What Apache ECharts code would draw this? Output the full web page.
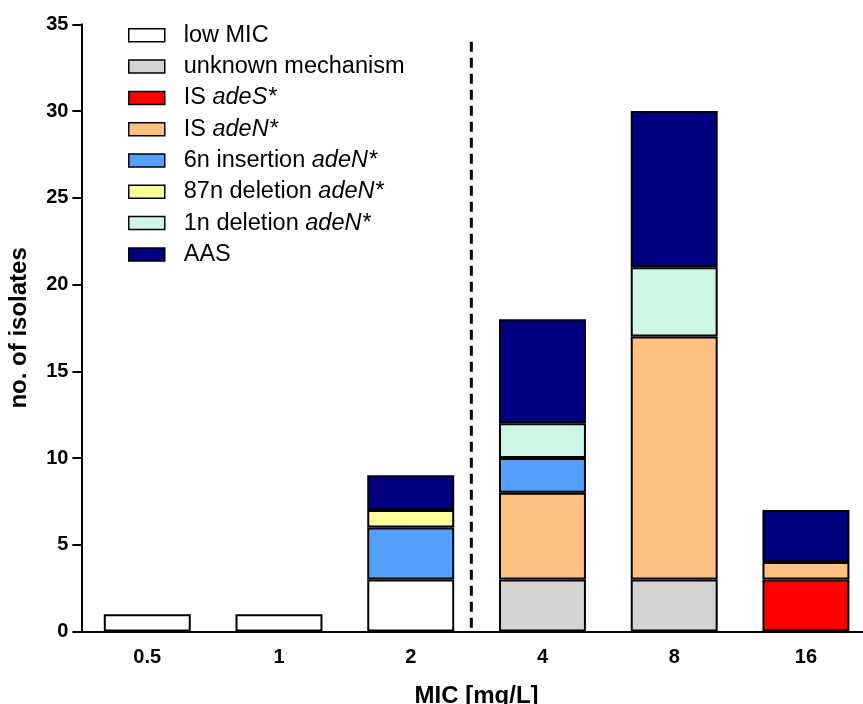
<!DOCTYPE html>
<html>
<head>
<meta charset="utf-8">
<script src="https://cdn.jsdelivr.net/npm/echarts@6/dist/echarts.min.js"></script>
<style>
  html, body { margin: 0; padding: 0; background: #fff; }
  #chart { width: 863px; height: 704px; }
</style>
</head>
<body>
<div id="chart"></div>
<script>
// MIC classes (mg/L)
const categories = ['0.5', '1', '2', '4', '8', '16'];

// number of isolates per mechanism in each MIC class (stacked bottom to top)
const lowMIC       = [1, 1, 3, null, null, null];
const unknownMech  = [null, null, null, 3, 3, null];
const isAdeS       = [null, null, null, null, null, 3];
const isAdeN       = [null, null, null, 5, 14, 1];
const ins6nAdeN    = [null, null, 3, 2, null, null];
const del87nAdeN   = [null, null, 1, null, null, null];
const del1nAdeN    = [null, null, null, 2, 4, null];
const aas          = [null, null, 2, 6, 9, 3];

const seriesNames = ['low MIC', 'unknown mechanism', 'IS adeS*', 'IS adeN*',
  '6n insertion adeN*', '87n deletion adeN*', '1n deletion adeN*', 'AAS'];
const seriesValues = [lowMIC, unknownMech, isAdeS, isAdeN, ins6nAdeN, del87nAdeN, del1nAdeN, aas];
const seriesColors = ['#ffffff', '#d3d3d3', '#ff0000', '#ffc080',
  '#55a0ff', '#ffff99', '#ccf7e4', '#000080'];

// legend labels with the gene names set in italics
const legendLabels = {
  'low MIC': 'low MIC',
  'unknown mechanism': 'unknown mechanism',
  'IS adeS*': 'IS {i|adeS*}',
  'IS adeN*': 'IS {i|adeN*}',
  '6n insertion adeN*': '6n insertion {i|adeN*}',
  '87n deletion adeN*': '87n deletion {i|adeN*}',
  '1n deletion adeN*': '1n deletion {i|adeN*}',
  'AAS': 'AAS'
};

// breakpoint separating susceptible and resistant classes
const breakpointPos = 2.96;
const breakpointSpan = [0, 34];

const FONT = 'Arial, "Liberation Sans", sans-serif';

const chart = echarts.init(document.getElementById('chart'), null, { renderer: 'canvas' });

const barSeries = seriesNames.map((name, k) => ({
  name: name,
  type: 'bar',
  stack: 'total',
  barWidth: '66%',
  data: seriesValues[k],
  itemStyle: { color: seriesColors[k], borderColor: '#000', borderWidth: 2 },
  emphasis: { disabled: true }
}));

const option = {
  backgroundColor: '#fff',
  animation: false,
  textStyle: { fontFamily: FONT },
  // the category axis runs a little past the right edge of the canvas
  grid: {
    left: 81.4, width: 790.4, top: 24.3, bottom: 72.5,
    containLabel: false, outerBoundsMode: 'none'
  },
  legend: {
    orient: 'vertical',
    left: 128,
    top: 22.3,
    padding: 0,
    data: seriesNames,
    itemWidth: 36,
    itemHeight: 13,
    itemGap: 5.3,
    selectedMode: false,
    icon: 'rect',
    itemStyle: { borderColor: '#000', borderWidth: 1.5 },
    formatter: name => legendLabels[name],
    textStyle: {
      fontFamily: FONT,
      fontSize: 23.5,
      lineHeight: 26,
      color: '#000',
      padding: [0, 0, 0, 14],
      rich: {
        i: { fontFamily: FONT, fontSize: 23.5, fontStyle: 'italic', color: '#000' }
      }
    }
  },
  xAxis: [{
    type: 'category',
    data: categories,
    name: 'MIC [mg/L]',
    nameLocation: 'middle',
    nameGap: 53,
    nameTextStyle: { fontFamily: FONT, fontSize: 24, fontWeight: 'bold', color: '#000' },
    axisLine: { lineStyle: { color: '#000', width: 2 } },
    axisTick: { alignWithLabel: true, length: 9, lineStyle: { color: '#000', width: 2 } },
    axisLabel: { fontFamily: FONT, fontSize: 20, fontWeight: 'bold', color: '#000', margin: 16 }
  }, {
    type: 'value',
    min: 0,
    max: 6,
    show: false
  }],
  yAxis: {
    type: 'value',
    min: 0,
    max: 35,
    interval: 5,
    name: 'no. of isolates',
    nameLocation: 'middle',
    nameGap: 50,
    nameTextStyle: { fontFamily: FONT, fontSize: 24, fontWeight: 'bold', color: '#000' },
    axisLine: { show: true, lineStyle: { color: '#000', width: 2 } },
    axisTick: { show: true, length: 9, lineStyle: { color: '#000', width: 2 } },
    axisLabel: { fontFamily: FONT, fontSize: 20, fontWeight: 'bold', color: '#000', margin: 13 },
    splitLine: { show: false }
  },
  series: barSeries.concat([{
    name: 'breakpoint',
    type: 'line',
    xAxisIndex: 1,
    yAxisIndex: 0,
    data: [[breakpointPos, breakpointSpan[1]], [breakpointPos, breakpointSpan[0]]],
    symbol: 'none',
    silent: true,
    lineStyle: { color: '#000', width: 3, type: [10, 6] },
    z: 1
  }])
};

chart.setOption(option);
</script>
</body>
</html>
